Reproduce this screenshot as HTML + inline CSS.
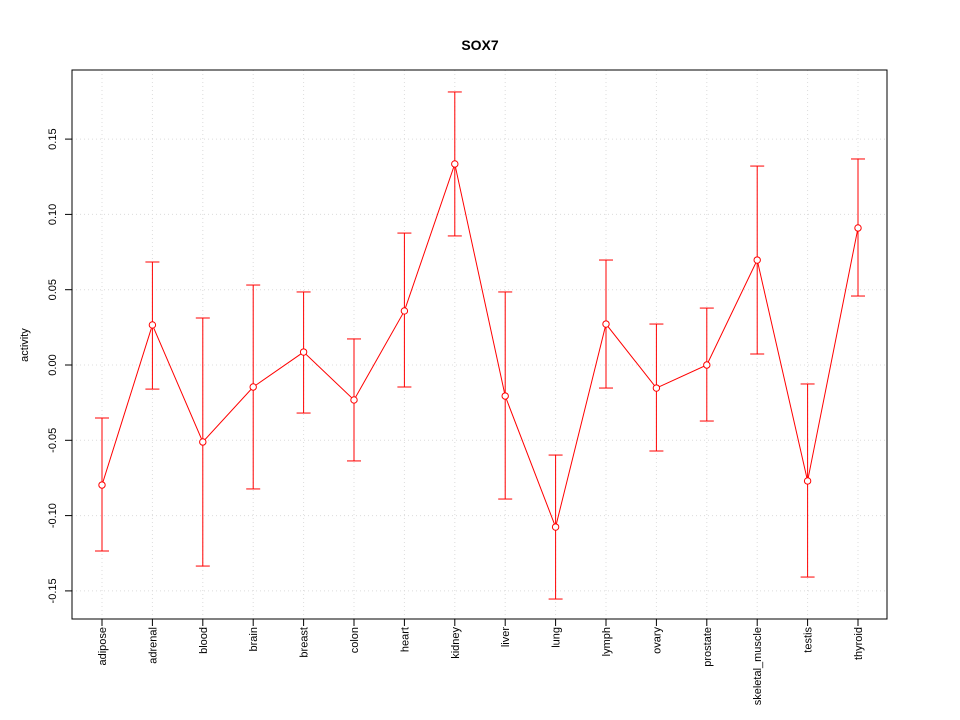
<!DOCTYPE html>
<html><head><meta charset="utf-8"><style>
body{margin:0;background:#fff}
svg{display:block;font-family:"Liberation Sans",Arial,sans-serif}
</style></head><body>
<svg id="chart" width="960" height="720"></svg>
<script>
const categories=["adipose","adrenal","blood","brain","breast","colon","heart","kidney","liver","lung","lymph","ovary","prostate","skeletal_muscle","testis","thyroid"];
const activity=[-0.0797,0.0266,-0.0511,-0.0146,0.0086,-0.0232,0.0359,0.1335,-0.0206,-0.1076,0.0272,-0.0153,0.0,0.0697,-0.077,0.091];
const upper=[-0.0352,0.0684,0.0312,0.0531,0.0485,0.0173,0.0876,0.1813,0.0485,-0.0598,0.0697,0.0272,0.0378,0.1321,-0.0126,0.1368];
const lower=[-0.1235,-0.016,-0.1335,-0.0823,-0.0319,-0.0637,-0.0146,0.0857,-0.089,-0.1554,-0.0153,-0.0571,-0.0372,0.0073,-0.1408,0.0458];
const yTicks=[-0.15,-0.10,-0.05,0.00,0.05,0.10,0.15];
const yTickLabels=["-0.15","-0.10","-0.05","0.00","0.05","0.10","0.15"];

const NS="http://www.w3.org/2000/svg";
const svg=document.getElementById('chart');
const L=72,R=887,T=70,B=619;
const x=i=>102+i*(858-102)/(categories.length-1);
const y=v=>365-v*1506;
function mk(tag,attrs,parent){const e=document.createElementNS(NS,tag);for(const k in attrs)e.setAttribute(k,attrs[k]);(parent||svg).appendChild(e);return e;}

const grid=mk('g',{});


categories.forEach((c,i)=>mk('line',{x1:x(i),x2:x(i),y1:T,y2:B,stroke:'#dcdcdc','stroke-dasharray':'1,3'},grid));
yTicks.forEach(t=>mk('line',{x1:L,x2:R,y1:y(t),y2:y(t),stroke:'#dcdcdc','stroke-dasharray':'1,3'},grid));

const frame=mk('rect',{x:L,y:T,width:R-L,height:B-T,fill:'none',stroke:'#000'});



const ya=mk('g',{});


mk('line',{x1:L,x2:L,y1:y(yTicks[0]),y2:y(yTicks[yTicks.length-1]),stroke:'#000'},ya);
yTicks.forEach((t,i)=>{
  mk('line',{x1:L-7,x2:L,y1:y(t),y2:y(t),stroke:'#000'},ya);
  const tx=mk('text',{x:56,y:y(t),'font-size':11,'text-anchor':'middle',transform:`rotate(-90 56 ${y(t)})`},ya);
  tx.textContent=yTickLabels[i];
  
  
});
const yt=mk('text',{x:28,y:345,'font-size':11,'text-anchor':'middle',transform:'rotate(-90 28 345)'});
yt.textContent='activity';



const xa=mk('g',{});


mk('line',{x1:x(0),x2:x(categories.length-1),y1:B,y2:B,stroke:'#000'},xa);
categories.forEach((c,i)=>{
  mk('line',{x1:x(i),x2:x(i),y1:B,y2:B+7,stroke:'#000'},xa);
  const tx=mk('text',{x:x(i)+4,y:627,'font-size':11,'text-anchor':'end',transform:`rotate(-90 ${x(i)+4} 627)`},xa);
  tx.textContent=c;
  
  
});

const title=mk('text',{x:480,y:50,'font-size':14,'font-weight':'bold','text-anchor':'middle'});
title.textContent='SOX7';



const ser=mk('g',{});


categories.forEach((c,i)=>{
  const eb=mk('g',{},ser);
  
  
  mk('line',{x1:x(i),x2:x(i),y1:y(upper[i]),y2:y(lower[i]),stroke:'#ff0000'},eb);
  mk('line',{x1:x(i)-7,x2:x(i)+7,y1:y(upper[i]),y2:y(upper[i]),stroke:'#ff0000'},eb);
  mk('line',{x1:x(i)-7,x2:x(i)+7,y1:y(lower[i]),y2:y(lower[i]),stroke:'#ff0000'},eb);
});
const pl=mk('polyline',{points:activity.map((v,i)=>x(i)+','+y(v)).join(' '),fill:'none',stroke:'#ff0000'},ser);


activity.forEach((v,i)=>{
  const p=mk('circle',{cx:x(i),cy:y(v),r:3.2,fill:'#fff',stroke:'#ff0000'},ser);
  
  
});
</script>
</body></html>
